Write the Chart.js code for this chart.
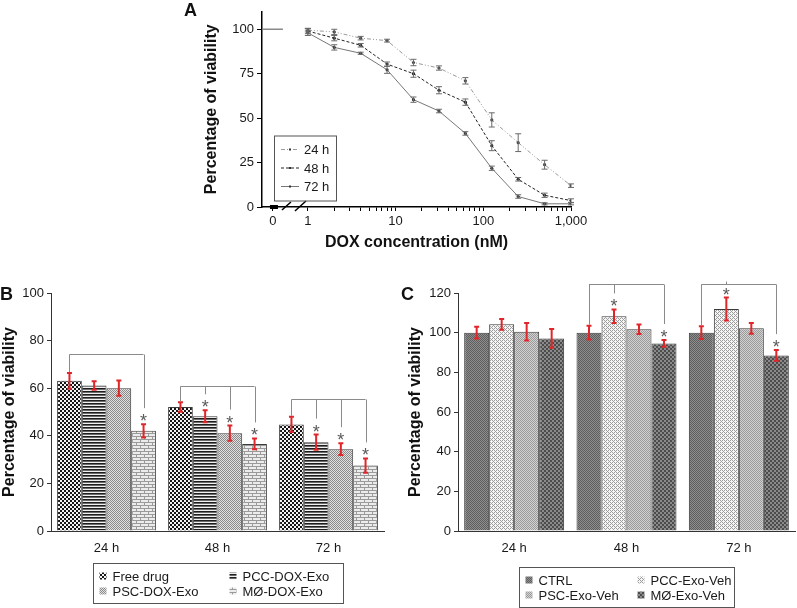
<!DOCTYPE html>
<html>
<head>
<meta charset="utf-8">
<script src="https://cdn.jsdelivr.net/npm/chart.js@4.4.1/dist/chart.umd.min.js"></script>
<style>
  body { margin: 0; background: #fff; width: 797px; height: 608px; position: relative; overflow: hidden; font-family: "Liberation Sans", Arial, sans-serif; }
  canvas { position: absolute; }
  .tag { position: absolute; font-weight: bold; font-size: 18px; color: #111; line-height: 18px; }
</style>
</head>
<body>
<canvas id="chartA" width="420" height="255" style="left:180px;top:0"></canvas>
<canvas id="chartB" width="400" height="358" style="left:0;top:250px"></canvas>
<canvas id="chartC" width="397" height="358" style="left:400px;top:250px"></canvas>
<div class="tag" style="left:184px;top:1px">A</div>
<div class="tag" style="left:0;top:285px">B</div>
<div class="tag" style="left:401px;top:285px">C</div>

<script>
const FONT = '"Liberation Sans", Arial, Helvetica, sans-serif';
Chart.defaults.font.family = FONT;
Chart.defaults.font.size = 13;
Chart.defaults.color = '#1a1a1a';
Chart.defaults.animation = false;

// ---- panel A : viability vs DOX concentration
const concA = [1, 2, 4, 8, 16, 31.25, 62.5, 125, 250, 500, 1000];
const via24 = [99.5, 98.5, 95, 93.6, 81.3, 78.2, 71, 49, 36.2, 23.8, 12];
const err24 = [1, 1.5, 1, 0.8, 1.8, 1.2, 1.8, 4, 5, 2.5, 1];
const via48 = [99, 95, 91, 80.4, 75, 65.7, 59, 34.5, 15.6, 6.6, 3.6];
const err48 = [1.5, 1.5, 1, 1.2, 2, 2, 1.8, 2.8, 1, 1.2, 1];
const via72 = [98, 89.8, 86.5, 77.2, 60.4, 54, 41.4, 21.8, 5.9, 1.8, 1.8];
const err72 = [1.5, 1.5, 0.6, 2, 1.5, 1, 1, 1.2, 1, 0.6, 0.6];
const ctrlConc = 0.4;   // untreated (0 nM), shown left of the axis break
const ctrlVia = 100;
const yTicksA = [0, 25, 50, 75, 100];
const xMajorA = [1, 10, 100, 1000];

// ---- panel B : DOX loaded exosomes
const groups = ['24 h', '48 h', '72 h'];
const freeDrug = [63.1, 52.1, 44.8];
const errFree = [3.3, 2, 3.2];
const pccDox = [61.1, 48.2, 37.3];
const errPccDox = [1.8, 2.5, 3.2];
const pscDox = [60, 41.1, 34.4];
const errPscDox = [3.2, 3.2, 2.5];
const mDox = [42.1, 36.6, 27.5];
const errMDox = [2.8, 2.3, 3];
const yTicksB = [0, 20, 40, 60, 80, 100];
const bracketsB = [
  { group: 0, legs: [0, 3], stars: [3], top: 74.2 },
  { group: 1, legs: [0, 1, 2, 3], stars: [1, 2, 3], top: 61 },
  { group: 2, legs: [0, 1, 2, 3], stars: [1, 2, 3], top: 55.5 }
];

// ---- panel C : empty exosome vehicles
const ctrl = [100, 100, 100];
const errCtrl = [3, 3.5, 3.2];
const pccVeh = [104.2, 108.3, 111.9];
const errPccVeh = [2.7, 3.4, 5.8];
const pscVeh = [100.5, 101.7, 102.2];
const errPscVeh = [4.4, 2.4, 2.7];
const mVeh = [97.1, 94.6, 88.5];
const errMVeh = [4.7, 1.7, 2.7];
const yTicksC = [0, 20, 40, 60, 80, 100, 120];
const bracketsC = [
  { group: 1, legs: [0, 1, 3], stars: [1, 3], top: 124.7 },
  { group: 2, legs: [0, 1, 3], stars: [1, 3], top: 124.7 }
];


// fill patterns ---------------------------------------------------------
function pattern(w, h, paint) {
  const c = document.createElement('canvas');
  c.width = w; c.height = h;
  const g = c.getContext('2d');
  paint(g);
  return g.createPattern(c, 'repeat');
}

function checker(size, a, b) {
  return pattern(size * 2, size * 2, g => {
    g.fillStyle = b; g.fillRect(0, 0, size * 2, size * 2);
    g.fillStyle = a; g.fillRect(0, 0, size, size); g.fillRect(size, size, size, size);
  });
}

const patFree = checker(2, '#161616', '#f4f4f4');
const patPccDox = pattern(1, 3, g => {
  g.fillStyle = '#f0f0f0'; g.fillRect(0, 0, 1, 3);
  g.fillStyle = '#1e1e1e'; g.fillRect(0, 0, 1, 1);
  g.fillStyle = '#6a6a6a'; g.fillRect(0, 1, 1, 1);
});
const patPscDox = checker(1, '#8a8a8a', '#e2e2e2');
const patMDox = pattern(8, 6, g => {
  g.fillStyle = '#ececec'; g.fillRect(0, 0, 8, 6);
  g.fillStyle = '#9a9a9a';
  g.fillRect(0, 0, 8, 1); g.fillRect(0, 3, 8, 1);
  g.fillRect(0, 1, 1, 2); g.fillRect(4, 4, 1, 2);
});
const patCtrl = checker(1, '#5e5e5e', '#8e8e8e');
const patPccVeh = pattern(4, 4, g => {
  g.fillStyle = '#f6f6f6'; g.fillRect(0, 0, 4, 4);
  g.fillStyle = '#9c9c9c';
  [[0, 0], [1, 1], [2, 2], [3, 3], [2, 0], [3, 1], [0, 2], [1, 3]].forEach(p => g.fillRect(p[0], p[1], 1, 1));
  g.fillStyle = '#f6f6f6'; g.fillRect(1, 1, 1, 1); g.fillRect(3, 3, 1, 1);
});
const patPscVeh = checker(1, '#9a9a9a', '#d2d2d2');
const patMVeh = checker(2, '#4c4c4c', '#8a8a8a');


// plugins -----------------------------------------------------------------
const lineExtras = {
  id: 'lineExtras',
  afterDatasetsDraw(chart) {
    const ctx = chart.ctx, y = chart.scales.y, x = chart.scales.x, ca = chart.chartArea;
    ctx.save();
    // error bars
    chart.data.datasets.forEach((ds, i) => {
      if (!ds.errs) return;
      chart.getDatasetMeta(i).data.forEach((pt, j) => {
        const v = ds.data[j].y, e = ds.errs[j];
        const hi = y.getPixelForValue(v + e), lo = y.getPixelForValue(v - e);
        ctx.strokeStyle = '#6a6a6a'; ctx.lineWidth = 1;
        ctx.beginPath();
        ctx.moveTo(pt.x, hi); ctx.lineTo(pt.x, lo);
        ctx.moveTo(pt.x - 3, hi); ctx.lineTo(pt.x + 3, hi);
        ctx.moveTo(pt.x - 3, lo); ctx.lineTo(pt.x + 3, lo);
        ctx.stroke();
      });
    });
    // axis break next to the 0 nM tick
    const bx = x.getPixelForValue(ctrlConc), by = ca.bottom;
    ctx.fillStyle = '#000';
    ctx.fillRect(bx - 3, by - 2, 8, 4);
    ctx.strokeStyle = '#000'; ctx.lineWidth = 1.5;
    ctx.beginPath();
    ctx.moveTo(bx + 9, by + 3); ctx.lineTo(bx + 18, by - 5);
    ctx.moveTo(bx + 22, by + 4); ctx.lineTo(bx + 33, by - 6);
    ctx.stroke();
    // legend
    const lx = ca.left + 12, ly = ca.top + 124;
    ctx.strokeStyle = '#555'; ctx.lineWidth = 1;
    ctx.strokeRect(lx + 0.5, ly + 0.5, 62, 65);
    ctx.font = '13px ' + FONT; ctx.textBaseline = 'middle'; ctx.fillStyle = '#1a1a1a';
    chart.data.datasets.filter(d => d.errs).forEach((ds, k) => {
      const ry = ly + 14 + k * 18.5;
      ctx.strokeStyle = ds.borderColor; ctx.lineWidth = 1;
      ctx.setLineDash(ds.borderDash || []);
      ctx.beginPath(); ctx.moveTo(lx + 7, ry); ctx.lineTo(lx + 25, ry); ctx.stroke();
      ctx.setLineDash([]);
      ctx.fillStyle = '#333'; ctx.fillRect(lx + 15, ry - 1, 2, 2);
      ctx.fillStyle = '#1a1a1a';
      ctx.fillText(ds.label, lx + 30, ry + 1);
    });
    ctx.restore();
  }
};

const barExtras = {
  id: 'barExtras',
  afterDatasetsDraw(chart, args, opts) {
    const ctx = chart.ctx, y = chart.scales.y;
    const errTop = (i, j) => {
      const ds = chart.data.datasets[i];
      return y.getPixelForValue(ds.data[j] + ds.errs[j]);
    };
    ctx.save();
    chart.data.datasets.forEach((ds, i) => {
      chart.getDatasetMeta(i).data.forEach((bar, j) => {
        const hi = errTop(i, j), lo = y.getPixelForValue(ds.data[j] - ds.errs[j]);
        ctx.strokeStyle = '#e0262a'; ctx.lineWidth = 2;
        ctx.beginPath();
        ctx.moveTo(bar.x, hi); ctx.lineTo(bar.x, lo);
        ctx.moveTo(bar.x - 2.5, hi); ctx.lineTo(bar.x + 2.5, hi);
        ctx.moveTo(bar.x - 2.5, lo); ctx.lineTo(bar.x + 2.5, lo);
        ctx.stroke();
      });
    });
    // significance brackets and stars
    ctx.strokeStyle = '#8a8a8a'; ctx.lineWidth = 1;
    ctx.fillStyle = '#5a5a5a';
    ctx.font = '18px ' + FONT; ctx.textAlign = 'center'; ctx.textBaseline = 'alphabetic';
    opts.brackets.forEach(b => {
      const top = Math.round(y.getPixelForValue(b.top)) + 0.5;
      const xs = b.legs.map(i => chart.getDatasetMeta(i).data[b.group].x);
      ctx.beginPath();
      ctx.moveTo(xs[0], top); ctx.lineTo(xs[xs.length - 1], top);
      b.legs.forEach((i, k) => {
        const t = errTop(i, b.group);
        const starred = b.stars.includes(i);
        ctx.moveTo(Math.round(xs[k]) + 0.5, top);
        ctx.lineTo(Math.round(xs[k]) + 0.5, starred ? t - 16 : t - 1);
        if (starred) ctx.fillText('*', xs[k], t + 3);
      });
      ctx.stroke();
    });
    // boxed two-column legend
    const L = opts.legend, ca = chart.chartArea;
    const bx = Math.round((ca.left + ca.right) / 2 - L.w / 2) + 0.5, by = Math.round(ca.bottom + L.top) + 0.5;
    ctx.strokeStyle = '#555';
    ctx.strokeRect(bx, by, L.w, 40);
    ctx.font = '13px ' + FONT; ctx.textAlign = 'left'; ctx.textBaseline = 'middle';
    chart.data.datasets.forEach((ds, i) => {
      const cx = bx + 6 + (i % 2) * L.col2, cy = by + 12.5 + Math.floor(i / 2) * 15;
      ctx.fillStyle = ds.backgroundColor;
      ctx.fillRect(cx, cy - 3.5, 7, 7);
      ctx.fillStyle = '#1a1a1a';
      ctx.fillText(ds.label, cx + 13, cy + 1);
    });
    ctx.restore();
  }
};


// panel A -----------------------------------------------------------------
const pts = (xs, ys) => xs.map((v, i) => ({ x: v, y: ys[i] }));
const xTicksA = [ctrlConc];
[1, 10, 100].forEach(d => { for (let k = 1; k < 10; k++) xTicksA.push(k * d); });
xTicksA.push(1000);

new Chart(document.getElementById('chartA'), {
  type: 'line',
  data: {
    datasets: [
      { label: 'ctrl', data: [{ x: ctrlConc, y: ctrlVia }], showLine: false, pointStyle: 'line',
        pointRadius: 10, pointBorderColor: '#8a8a8a', pointBorderWidth: 1.5 },
      { label: '24 h', data: pts(concA, via24), errs: err24, borderColor: '#9a9a9a', borderWidth: 1,
        borderDash: [4, 2, 1, 2, 1, 2], pointRadius: 1.6, pointBackgroundColor: '#444', pointBorderWidth: 0 },
      { label: '48 h', data: pts(concA, via48), errs: err48, borderColor: '#222', borderWidth: 1,
        borderDash: [3, 2], pointRadius: 1.6, pointBackgroundColor: '#222', pointBorderWidth: 0 },
      { label: '72 h', data: pts(concA, via72), errs: err72, borderColor: '#777', borderWidth: 1,
        pointRadius: 1.6, pointBackgroundColor: '#333', pointBorderWidth: 0 }
    ]
  },
  options: {
    responsive: false,
    layout: { padding: { top: 1, right: 29, left: 0, bottom: 0 } },
    plugins: { legend: { display: false }, tooltip: { enabled: false } },
    scales: {
      x: {
        type: 'logarithmic', min: 0.337, max: 1000,
        afterBuildTicks: s => { s.ticks = xTicksA.map(v => ({ value: v })); },
        afterFit: s => { s.height = 48; },
        ticks: {
          autoSkip: false, maxRotation: 0, padding: 3,
          callback: v => v === ctrlConc ? '0' : (xMajorA.includes(v) ? v.toLocaleString('en-US') : '')
        },
        grid: { drawOnChartArea: false, tickLength: 4, color: '#000' },
        border: { color: '#000', width: 1.5 },
        title: { display: true, text: 'DOX concentration (nM)', font: { size: 16, weight: 'bold' },
          color: '#111', padding: { top: 0, bottom: 3 } }
      },
      y: {
        min: 0, max: 110,
        afterBuildTicks: s => { s.ticks = yTicksA.map(v => ({ value: v })); },
        afterFit: s => { s.width = 82; },
        ticks: { padding: 3 },
        grid: { drawOnChartArea: false, tickLength: 5, color: '#000' },
        border: { color: '#000', width: 1.5 },
        title: { display: true, text: 'Percentage of viability', font: { size: 16, weight: 'bold' },
          color: '#111', padding: { top: 22, bottom: 0 } }
      }
    }
  },
  plugins: [lineExtras]
});


// panels B and C ----------------------------------------------------------
function barSet(label, data, errs, fill) {
  return { label, data, errs, backgroundColor: fill, borderColor: '#3a3a3a', borderWidth: 1 };
}

function barOptions(yTicks, yMax, leftW, rightPad, titlePad, brackets, legend) {
  return {
    responsive: false,
    layout: { padding: { top: 43, right: rightPad, left: 0, bottom: 0 } },
    datasets: { bar: { categoryPercentage: 0.89, barPercentage: 1 } },
    plugins: { legend: { display: false }, tooltip: { enabled: false }, barExtras: { brackets, legend } },
    scales: {
      x: {
        afterFit: s => { s.height = 77; },
        ticks: { padding: 10, color: '#1a1a1a' },
        grid: { drawOnChartArea: false, drawTicks: false },
        border: { color: '#333', width: 1 }
      },
      y: {
        min: 0, max: yMax,
        afterBuildTicks: s => { s.ticks = yTicks.map(v => ({ value: v })); },
        afterFit: s => { s.width = leftW; },
        ticks: { padding: 3, color: '#1a1a1a' },
        grid: { drawOnChartArea: false, tickLength: 4, color: '#333' },
        border: { color: '#333', width: 1 },
        title: { display: true, text: 'Percentage of viability', font: { size: 16, weight: 'bold' },
          color: '#111', padding: { top: titlePad, bottom: 0 } }
      }
    }
  };
}

new Chart(document.getElementById('chartB'), {
  type: 'bar',
  data: {
    labels: groups,
    datasets: [
      barSet('Free drug', freeDrug, errFree, patFree),
      barSet('PCC-DOX-Exo', pccDox, errPccDox, patPccDox),
      barSet('PSC-DOX-Exo', pscDox, errPscDox, patPscDox),
      barSet('MØ-DOX-Exo', mDox, errMDox, patMDox)
    ]
  },
  options: barOptions(yTicksB, 100, 51, 16, 0, bracketsB, { w: 250, col2: 130, top: 32 }),
  plugins: [barExtras]
});

new Chart(document.getElementById('chartC'), {
  type: 'bar',
  data: {
    labels: groups,
    datasets: [
      barSet('CTRL', ctrl, errCtrl, patCtrl),
      barSet('PCC-Exo-Veh', pccVeh, errPccVeh, patPccVeh),
      barSet('PSC-Exo-Veh', pscVeh, errPscVeh, patPscVeh),
      barSet('MØ-Exo-Veh', mVeh, errMVeh, patMVeh)
    ]
  },
  options: barOptions(yTicksC, 120, 58, 2, 6, bracketsC, { w: 215, col2: 112, top: 36 }),
  plugins: [barExtras]
});
</script>
</body>
</html>
